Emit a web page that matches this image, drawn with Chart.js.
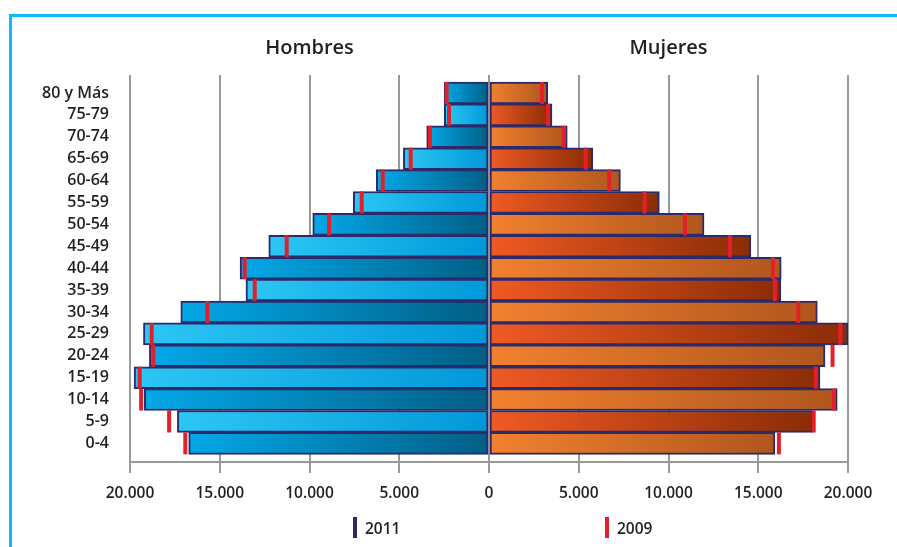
<!DOCTYPE html>
<html lang="es">
<head>
<meta charset="utf-8">
<title>Pirámide de población</title>
<script src="https://cdn.jsdelivr.net/npm/chart.js@4/dist/chart.umd.min.js"></script>
<style>
  html, body { margin: 0; padding: 0; background: #ffffff; }
  #wrap { position: relative; width: 897px; height: 547px; overflow: hidden; }
  #frame { position: absolute; left: 9px; top: 14px; width: 960px; height: 600px;
           border-top: 3px solid #0cbcf2; border-left: 3px solid #0cbcf2; }
  #chart { position: absolute; left: 0; top: 0; }
  .leg { position: absolute; top: 517px; height: 21px; display: flex; align-items: center;
         font: 600 15.5px "Open Sans", sans-serif; color: #231f20; }
  .leg i { display: inline-block; width: 4px; height: 21px; margin-right: 8px; }
</style>
</head>
<body>
<div id="wrap">
  <div id="frame"></div>
  <canvas id="chart" width="897" height="547"></canvas>
  <div class="leg" style="left:353px"><i style="background:#2b2a6b"></i><span>2011</span></div>
  <div class="leg" style="left:605px"><i style="background:#e3202a"></i><span>2009</span></div>
</div>
<script>
// Age groups, oldest at the top
const ageGroups = ['80 y Más', '75-79', '70-74', '65-69', '60-64', '55-59', '50-54', '45-49',
                   '40-44', '35-39', '30-34', '25-29', '20-24', '15-19', '10-14', '5-9', '0-4'];

// Population by sex and year
const men2011   = [2500, 2490, 3470, 4770, 6280, 7560, 9820, 12270, 13870, 13540, 17170, 19250, 18920, 19770, 19200, 17360, 16730];
const men2009   = [2360, 2230, 3290, 4360, 5920, 7090, 8910, 11270, 13610, 13050, 15690, 18790, 18700, 19460, 19380, 17820, 16920];
const women2011 = [3270, 3510, 4360, 5780, 7320, 9490, 11980, 14590, 16280, 16260, 18290, 20000, 18720, 18440, 19400, 18050, 15930];
const women2009 = [2950, 3290, 4160, 5390, 6700, 8670, 10920, 13420, 15820, 15930, 17230, 19570, 19140, 18210, 19220, 18090, 16150];

const sexTitles = ['Hombres', 'Mujeres'];
const axisTicks = [-20000, -15000, -10000, -5000, 0, 5000, 10000, 15000, 20000];

const INK = '#231f20';
const fmtThousands = v => String(Math.abs(v)).replace(/\B(?=(\d{3})+(?!\d))/g, '.');

// Men plotted to the left (negative), women to the right
const menPoints     = men2011.map((v, i) => ({ x: -v, y: i }));
const womenPoints   = women2011.map((v, i) => ({ x: v, y: i }));
const men09Points   = men2009.map((v, i) => ({ x: -v, y: i }));
const women09Points = women2009.map((v, i) => ({ x: v, y: i }));

// Alternating bar shading, listed left-to-right
const menShades   = [['#03a8e8', '#005f86'], ['#2cc7f5', '#0098d8']];
const womenShades = [['#f2812f', '#b0561d'], ['#f05a24', '#8b2c06']];

function barGradient(ctx, shades) {
  const pair = shades[(ctx.dataIndex || 0) % 2];
  if (ctx.type !== 'data') return pair[0];
  const chart = ctx.chart;
  const xs = chart.scales.x;
  if (!xs || !chart.chartArea) return pair[0];
  const x0 = xs.getPixelForValue(0);
  const x1 = xs.getPixelForValue(ctx.raw.x);
  const g = chart.ctx.createLinearGradient(Math.min(x0, x1), 0, Math.max(x0, x1), 0);
  g.addColorStop(0, pair[0]);
  g.addColorStop(1, pair[1]);
  return g;
}

// Section titles centred over each half of the pyramid
const sideTitlesPlugin = {
  id: 'sideTitles',
  afterDraw(chart) {
    const { ctx, scales: { x } } = chart;
    ctx.save();
    ctx.font = '600 20px "Open Sans", sans-serif';
    ctx.fillStyle = INK;
    ctx.textAlign = 'center';
    ctx.textBaseline = 'middle';
    ctx.fillText(sexTitles[0], x.getPixelForValue(x.min / 2), 48);
    ctx.fillText(sexTitles[1], x.getPixelForValue(x.max / 2), 48);
    ctx.restore();
  }
};

const markerStyle = {
  type: 'scatter',
  pointStyle: 'line',
  rotation: 90,
  radius: 11,
  hoverRadius: 11,
  borderWidth: 4,
  borderColor: '#e3202a',
  backgroundColor: '#e3202a',
  order: 0
};

const barStyle = {
  order: 1,
  grouped: false,
  barPercentage: 1,
  categoryPercentage: 1,
  borderWidth: 2,
  borderColor: '#2b2a6b',
  borderSkipped: false
};

new Chart(document.getElementById('chart'), {
  type: 'bar',
  data: {
    datasets: [
      { ...markerStyle, label: 'Hombres 2009', data: men09Points },
      { ...markerStyle, label: 'Mujeres 2009', data: women09Points },
      { ...barStyle, label: 'Hombres 2011', data: menPoints, backgroundColor: c => barGradient(c, menShades) },
      { ...barStyle, label: 'Mujeres 2011', data: womenPoints, backgroundColor: c => barGradient(c, womenShades) }
    ]
  },
  options: {
    indexAxis: 'y',
    responsive: false,
    animation: false,
    events: [],
    layout: { padding: { left: 0, top: 75, right: 49, bottom: 45 } },
    plugins: { legend: { display: false }, tooltip: { enabled: false } },
    scales: {
      x: {
        type: 'linear',
        min: axisTicks[0],
        max: axisTicks[axisTicks.length - 1],
        offset: false,
        afterBuildTicks: s => { s.ticks = axisTicks.map(v => ({ value: v })); },
        ticks: {
          callback: v => fmtThousands(v),
          color: INK,
          font: { family: '"Open Sans", sans-serif', size: 15.5, weight: '600' },
          padding: 11,
          maxRotation: 0,
          autoSkip: false
        },
        grid: { offset: false, color: '#9a9a9a', lineWidth: 2, drawTicks: true, tickLength: 11, tickColor: '#9a9a9a', tickWidth: 2 },
        border: { display: true, color: '#9a9a9a', width: 2 },
        afterFit: s => { s.height = 40; s.paddingLeft = 0; s.paddingRight = 0; }
      },
      y: {
        type: 'linear',
        bounds: 'data',
        offset: false,
        reverse: true,
        min: -0.82,
        max: 16.85,
        afterBuildTicks: s => { s.ticks = ageGroups.map((_, i) => ({ value: i })); },
        ticks: {
          autoSkip: false,
          callback: v => (ageGroups[v] !== undefined ? ageGroups[v] : ''),
          color: INK,
          font: { family: '"Open Sans", sans-serif', size: 16, weight: '600' },
          padding: 21
        },
        grid: { display: false, drawTicks: false, offset: false },
        border: { display: false },
        afterFit: s => { s.width = 130; s.paddingTop = 0; s.paddingBottom = 0; }
      }
    }
  },
  plugins: [sideTitlesPlugin]
});
</script>
</body>
</html>
